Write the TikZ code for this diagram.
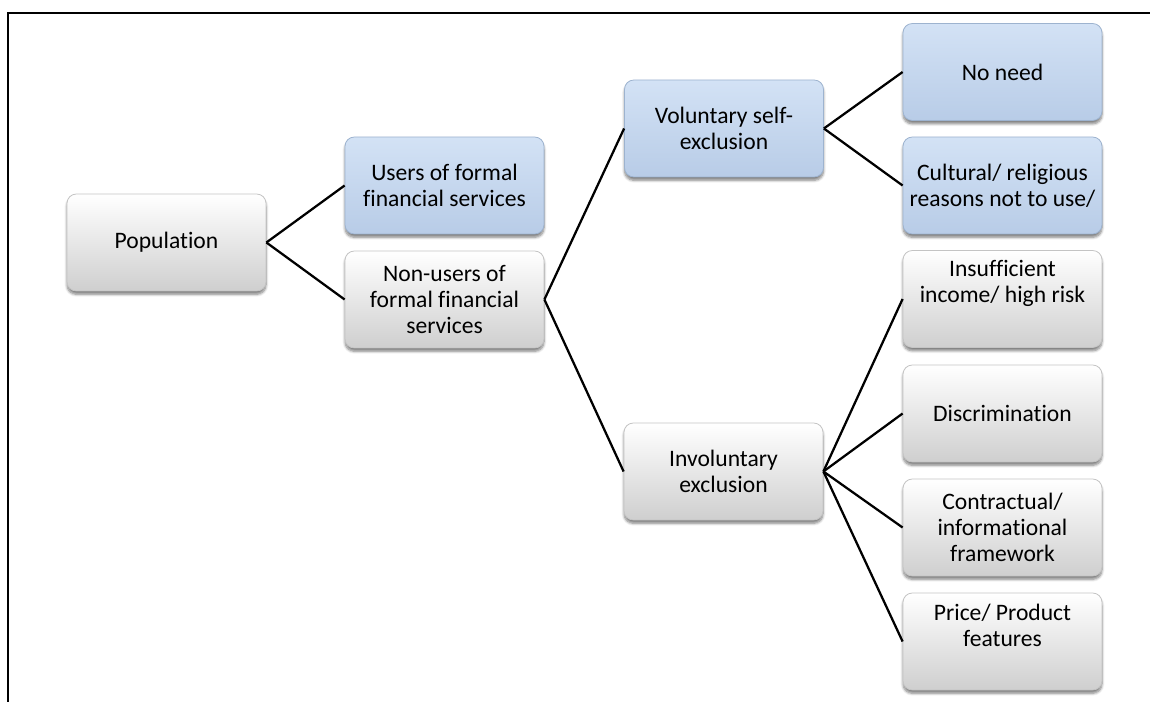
\documentclass[tikz,border=0pt]{standalone}
\usepackage{fontspec}
\setmainfont{Carlito}[Ligatures=NoCommon]
\usetikzlibrary{shadows.blur}
\definecolor{bluetop}{HTML}{D3E2F5}
\definecolor{bluebot}{HTML}{B8CCE7}
\definecolor{bluebd}{HTML}{9DB3CF}
\definecolor{graybot}{HTML}{CFCFCF}
\definecolor{graybd}{HTML}{C4C4C4}
\begin{document}
\begin{tikzpicture}[x=0.75pt,y=-0.75pt,
  box/.style={rounded corners=7pt, minimum width=149.25pt, minimum height=72.75pt,
    align=center, font=\fontsize{17.7}{19.5}\selectfont, inner sep=2pt, line width=0.6pt,
    blur shadow={shadow xshift=0pt, shadow yshift=-2.5pt, shadow blur steps=6, shadow opacity=50}},
  bluebox/.style={box, draw=bluebd, top color=bluetop, bottom color=bluebot},
  graybox/.style={box, draw=graybd, top color=white, bottom color=graybot},
  txt/.style={align=center, font=\fontsize{17.7}{19.5}\selectfont, inner sep=0pt},
  conn/.style={line width=1.7pt, black},
  frameline/.style={line width=1.8pt, black}]
\useasboundingbox (0,0) rectangle (1150,702);
\draw[frameline] (8,702) -- (8,13) -- (1150,13);

\node[graybox] (pop) at (166.5,242.5) {Population};
\node[bluebox] (users) at (444.5,185.5) {Users of formal\\financial services};
\node[graybox] (nonusers) at (444.5,299.5) {Non-users of\\formal financial\\services};
\node[bluebox] (vol) at (724,128.5) {Voluntary self-\\exclusion};
\node[graybox] (inv) at (723.5,471.5) {Involuntary\\exclusion};
\node[bluebox] (noneed) at (1002.5,72) {No need};
\node[bluebox] (cult) at (1002.5,185.5) {Cultural/ religious\\reasons not to use/};
\node[graybox] (insuf) at (1002.5,299) {};
\node[txt] (insuftxt) at ([yshift=12pt]insuf.center) {Insufficient\\income/ high risk};
\node[graybox] (disc) at (1002.5,413.5) {Discrimination};
\node[graybox] (contr) at (1002.5,527.5) {Contractual/\\informational\\framework};
\node[graybox] (price) at (1002.5,641.5) {};
\node[txt] (pricetxt) at ([yshift=12pt]price.center) {Price/ Product\\features};

\draw[conn] (pop.east) -- (users.west);
\draw[conn] (pop.east) -- (nonusers.west);
\draw[conn] (nonusers.east) -- (vol.west);
\draw[conn] (nonusers.east) -- (inv.west);
\draw[conn] (vol.east) -- (noneed.west);
\draw[conn] (vol.east) -- (cult.west);
\draw[conn] (inv.east) -- (insuf.west);
\draw[conn] (inv.east) -- (disc.west);
\draw[conn] (inv.east) -- (contr.west);
\draw[conn] (inv.east) -- (price.west);
\end{tikzpicture}
\end{document}
